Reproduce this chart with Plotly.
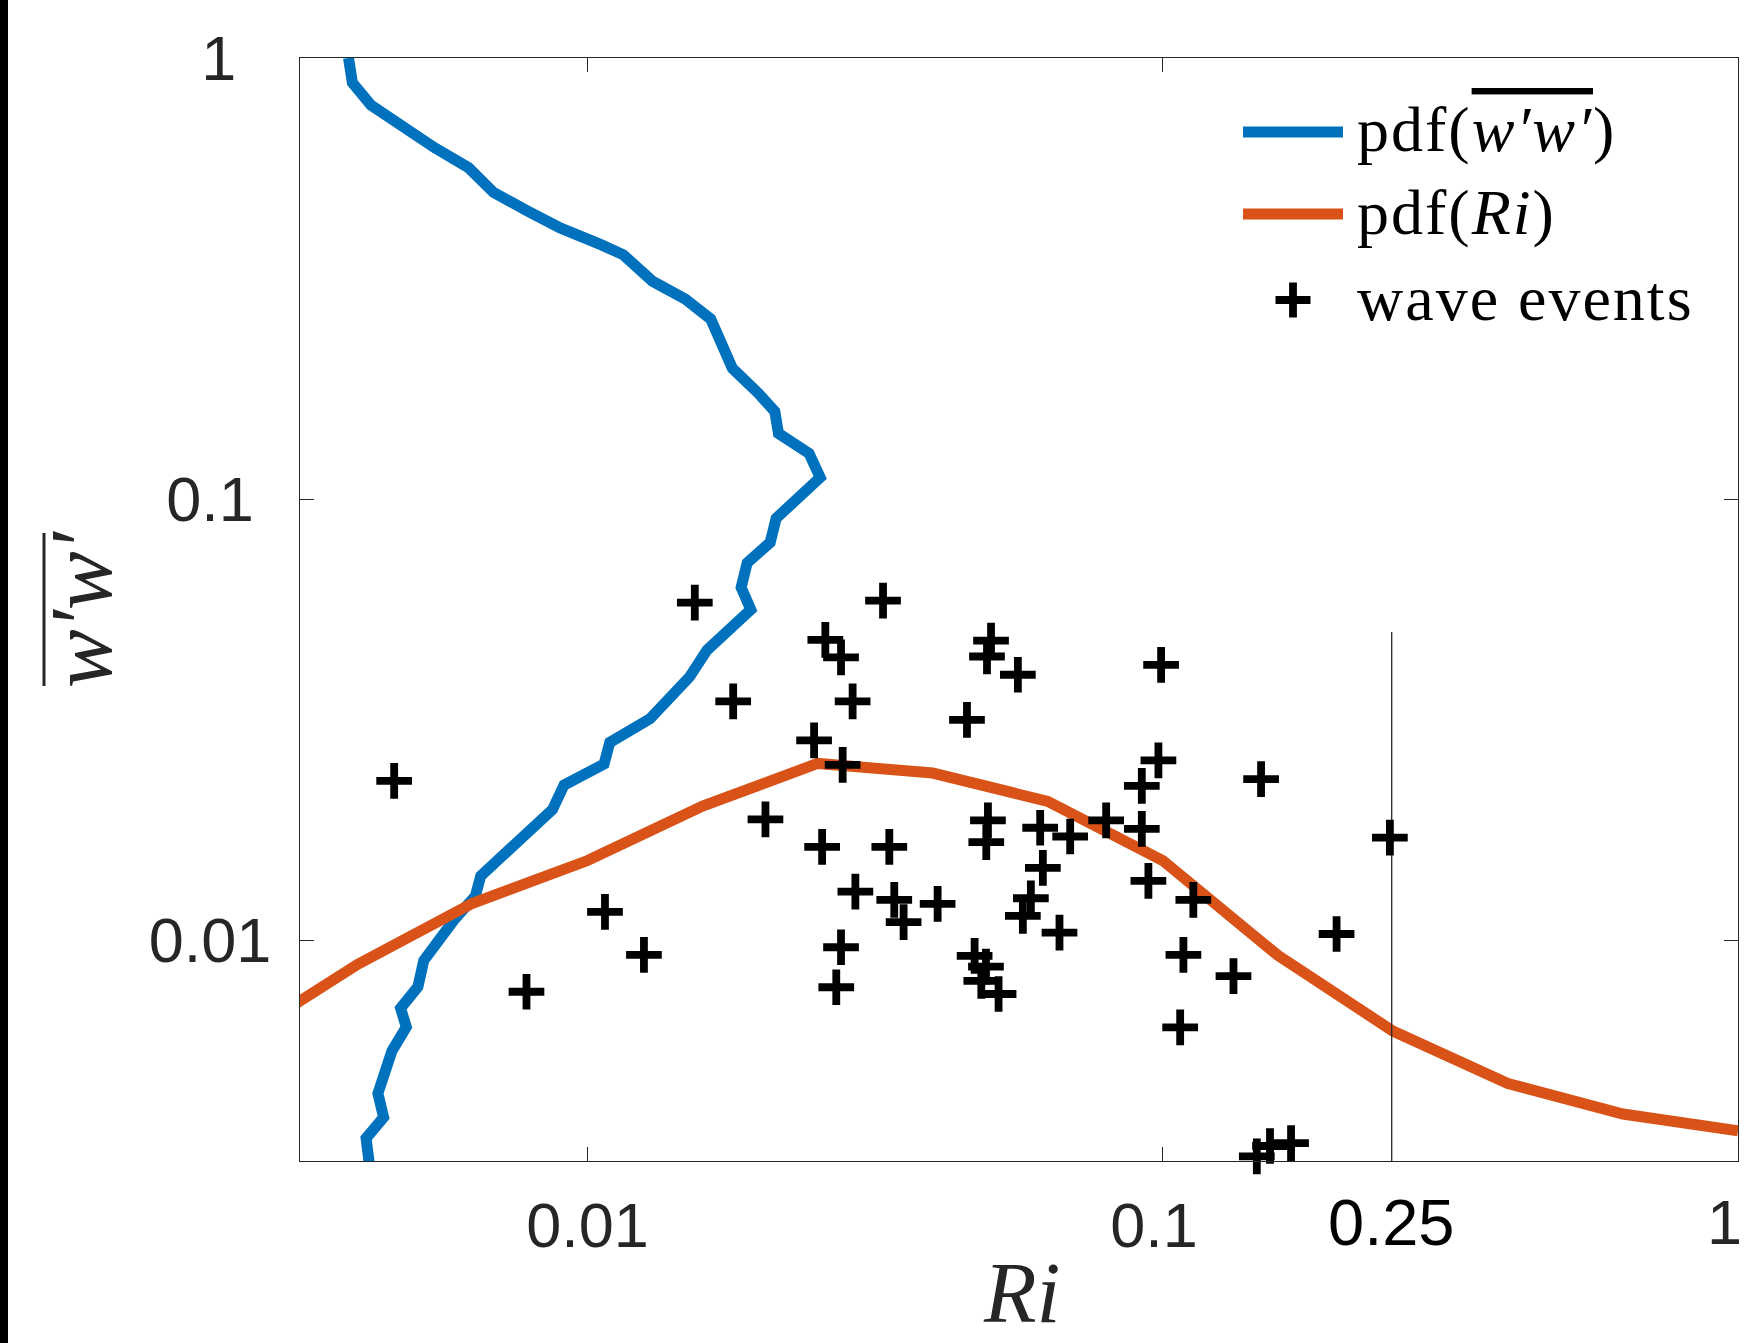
import math
import plotly.graph_objects as go

# ---------------- data ----------------
# pdf of w'w' (drawn with pdf value on the Ri axis, w'w' on the vertical axis)
ww_pdf_x = [0.00384, 0.00390, 0.00420, 0.00472, 0.00541, 0.00621, 0.00686, 0.00781, 0.00896,
            0.01057, 0.01154, 0.01296, 0.01479, 0.01637, 0.01785, 0.01979, 0.02116, 0.02147,
            0.02427, 0.02537, 0.02356, 0.02127, 0.02077, 0.01894, 0.01849, 0.01922, 0.01613,
            0.01505, 0.01284, 0.01093, 0.01068, 0.00910, 0.00869, 0.00757, 0.00652, 0.00638,
            0.00588, 0.00519, 0.00507, 0.00473, 0.00484, 0.00457, 0.00442, 0.00432, 0.00442,
            0.00412, 0.00417]
ww_pdf_y = [1.0, 0.879, 0.782, 0.704, 0.627, 0.564, 0.496, 0.452, 0.412,
            0.377, 0.358, 0.312, 0.284, 0.256, 0.198, 0.174, 0.158, 0.141,
            0.127, 0.112, 0.1018, 0.0905, 0.0798, 0.0717, 0.0631, 0.0562, 0.0455,
            0.0396, 0.0318, 0.0281, 0.0251, 0.0225, 0.0198, 0.0167, 0.0140, 0.0126,
            0.0112, 0.0090, 0.00785, 0.00702, 0.00636, 0.00562, 0.00496, 0.00450, 0.00397,
            0.00356, 0.00314]

# pdf of Ri
ri_pdf_x = [0.002512, 0.003981, 0.006310, 0.01, 0.01585, 0.02512, 0.03981, 0.06310,
            0.1, 0.1585, 0.2512, 0.3981, 0.6310, 1.0]
ri_pdf_y = [0.00603, 0.00882, 0.01214, 0.01517, 0.02015, 0.02518, 0.02395, 0.02066,
            0.01517, 0.00925, 0.00623, 0.00474, 0.00404, 0.00370]

# wave events
ri_events = [0.01536, 0.00461, 0.03263, 0.02590, 0.02758, 0.05028, 0.04947, 0.05598, 0.01791,
             0.02889, 0.04566, 0.02476, 0.02776, 0.02038, 0.04966, 0.04933, 0.06121, 0.02557,
             0.03346, 0.06187, 0.02921, 0.03413, 0.03543, 0.04060, 0.02758, 0.02706, 0.05897,
             0.05711, 0.06613, 0.04708, 0.04927, 0.04836, 0.05182, 0.09932, 0.09826, 0.09194,
             0.1482, 0.07971, 0.09194, 0.06902, 0.2482, 0.09440, 0.1130, 0.1086, 0.1327,
             0.2005, 0.1072, 0.1457, 0.1536, 0.1671, 0.01072, 0.01253, 0.00783]
ww_events = [0.0583, 0.0230, 0.0589, 0.0480, 0.0438, 0.0478, 0.0440, 0.0400, 0.0348,
             0.0348, 0.0316, 0.0284, 0.0250, 0.0188, 0.0187, 0.0167, 0.0180, 0.0163,
             0.0163, 0.0146, 0.0129, 0.01235, 0.0110, 0.0121, 0.00965, 0.00783, 0.01246,
             0.01136, 0.01041, 0.00922, 0.00872, 0.00810, 0.00756, 0.0421, 0.0256, 0.0224,
             0.0232, 0.0187, 0.0179, 0.0172, 0.0171, 0.01365, 0.01235, 0.00927, 0.00830,
             0.01034, 0.00635, 0.00324, 0.00342, 0.00347, 0.01161, 0.00927, 0.00765]

# critical Richardson number marker line
ri_critical = 0.25
vline_top = 0.05

x_range = [10 ** -2.5, 1.0]
y_range = [10 ** -2.5, 1.0]
x_tick_vals = [0.01, 0.1, 1]
x_tick_text = ["0.01", "0.1\u00a0", ""]      # label "1" is placed at the figure edge below
x_edge_label = "1"
y_tick_vals = [0.01, 0.1, 1]
y_tick_text = ["0.01", "0.1\u00a0", "1\u00a0\u00a0"]

LS = "letter-spacing:2px"
legend_labels = [
    f'<span style="{LS}">pdf(<i><span style="text-decoration:overline;'
    f'text-decoration-thickness:2px">w\u2032w\u2032</span></i>)</span>',
    f'<span style="{LS}">pdf(<i>Ri</i>)</span>',
    f'<span style="{LS}">wave events</span>',
]

# ---------------- style ----------------
BLUE = "#0072BD"
ORANGE = "#D95319"
AX = "#262626"
W, H = 1744, 1343
L, R, T, B = 300, 6, 58, 182
PW, PH = W - L - R, H - T - B
SANS = "Liberation Sans, Arial, Helvetica, sans-serif"
SERIF = "Liberation Serif, Times New Roman, serif"


def px_x(x):
    return (x - L) / PW


def px_y(y):
    return (H - B - y) / PH


fig = go.Figure()
fig.add_trace(go.Scatter(x=ww_pdf_x, y=ww_pdf_y, mode="lines",
                         line=dict(color=BLUE, width=11), showlegend=False))
fig.add_trace(go.Scatter(x=ri_pdf_x, y=ri_pdf_y, mode="lines",
                         line=dict(color=ORANGE, width=11), showlegend=False))
fig.add_trace(go.Scatter(x=[ri_critical, ri_critical], y=[vline_top, y_range[0]], mode="lines",
                         line=dict(color=AX, width=1.3), showlegend=False))
fig.add_trace(go.Scatter(x=ri_events, y=ww_events, mode="markers", cliponaxis=False,
                         marker=dict(symbol="cross-thin", size=25.5,
                                     line=dict(color="black", width=7.8)),
                         showlegend=False))

axis_common = dict(type="log", showgrid=False, zeroline=False, showline=True,
                   linecolor=AX, linewidth=1.3, mirror="ticks", ticks="inside",
                   ticklen=14, tickwidth=1.3, tickcolor=AX,
                   tickfont=dict(family=SANS, size=63, color=AX))

fig.update_layout(
    width=W, height=H,
    margin=dict(l=L, r=R, t=T, b=B, pad=0),
    paper_bgcolor="white", plot_bgcolor="white",
    showlegend=False,
    xaxis=dict(range=[math.log10(x_range[0]), math.log10(x_range[1])],
               tickvals=x_tick_vals, ticktext=x_tick_text, ticklabelstandoff=9,
               **axis_common),
    yaxis=dict(range=[math.log10(y_range[0]), math.log10(y_range[1])],
               tickvals=y_tick_vals, ticktext=y_tick_text, ticklabelstandoff=15,
               **axis_common),
)

annotations = []
# "1" tick label at the right edge of the figure
annotations.append(dict(x=px_x(W), xref="paper", y=px_y(1222), yref="paper",
                        text=x_edge_label, showarrow=False, xanchor="right", yanchor="middle",
                        font=dict(family=SANS, size=63, color=AX)))
# 0.25 label under the critical line
annotations.append(dict(x=math.log10(ri_critical), xref="x", y=px_y(1222), yref="paper",
                        text="0.25", showarrow=False, xanchor="center", yanchor="middle",
                        font=dict(family=SANS, size=65, color="black")))
# axis titles
annotations.append(dict(x=px_x(1021), y=px_y(1293), xref="paper", yref="paper",
                        text="<i>Ri</i>", showarrow=False, xanchor="center", yanchor="middle",
                        font=dict(family=SERIF, size=86, color=AX)))
annotations.append(dict(x=px_x(81), y=px_y(609), xref="paper", yref="paper",
                        text='<i>w\u2032w\u2032</i>',
                        textangle=-90, showarrow=False, xanchor="center", yanchor="middle",
                        font=dict(family=SERIF, size=88, color=AX)))

# legend (drawn manually to reproduce long line samples)
row_y = [132, 214, 300]
for i, lab in enumerate(legend_labels):
    annotations.append(dict(x=px_x(1355), y=px_y(row_y[i] - 2), xref="paper", yref="paper",
                            text=lab, showarrow=False, xanchor="left", yanchor="middle",
                            font=dict(family=SERIF, size=64, color="black")))
fig.update_layout(annotations=annotations)

shapes = []
# overline of the y-axis title
shapes.append(dict(type="line", xref="paper", yref="paper", x0=px_x(44), x1=px_x(44),
                   y0=px_y(533), y1=px_y(686), line=dict(color=AX, width=3)))
for c, yy in [(BLUE, row_y[0]), (ORANGE, row_y[1])]:
    shapes.append(dict(type="line", xref="paper", yref="paper", x0=px_x(1243), x1=px_x(1343),
                       y0=px_y(yy), y1=px_y(yy), line=dict(color=c, width=11)))
cx, cy, arm = 1293, row_y[2], 17.5
shapes.append(dict(type="line", xref="paper", yref="paper", x0=px_x(cx - arm), x1=px_x(cx + arm),
                   y0=px_y(cy), y1=px_y(cy), line=dict(color="black", width=7.8)))
shapes.append(dict(type="line", xref="paper", yref="paper", x0=px_x(cx), x1=px_x(cx),
                   y0=px_y(cy - arm), y1=px_y(cy + arm), line=dict(color="black", width=7.8)))
# dark strip at the left edge of the image
shapes.append(dict(type="rect", xref="paper", yref="paper", x0=px_x(0), x1=px_x(8),
                   y0=px_y(H), y1=px_y(0), fillcolor="black", line=dict(width=0), layer="above"))
fig.update_layout(shapes=shapes)

fig.write_html("out.html")
